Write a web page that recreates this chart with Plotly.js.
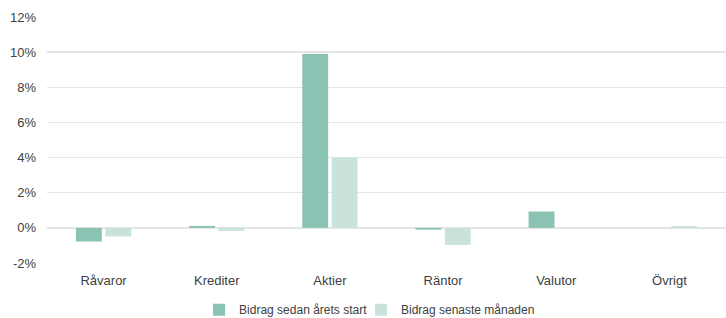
<!DOCTYPE html>
<html><head><meta charset="utf-8">
<script src="https://cdn.plot.ly/plotly-3.0.1.min.js"></script>
<style>html,body{margin:0;padding:0;background:#fff}#c{width:726px;height:318px}</style>
</head><body><div id="c"></div>
<script>
const categories = ["Råvaror","Krediter","Aktier","Räntor","Valutor","Övrigt"];
const ytdValues = [-0.78, 0.11, 9.9, -0.1, 0.93, 0.0];
const monthValues = [-0.49, -0.17, 4.0, -0.97, 0.0, 0.1];
const seriesNames = ["Bidrag sedan årets start","Bidrag senaste månaden"];
const tickVals = [-2,0,2,4,6,8,10,12];
const tickText = tickVals.map(v => v + "%");

const traces = [
  {type:"bar", x:categories, y:ytdValues, name:seriesNames[0], marker:{color:"#8ac2b4"}, legend:"legend"},
  {type:"bar", x:categories, y:monthValues, name:seriesNames[1], marker:{color:"#c9e3dc"}, legend:"legend2"}
];
const legendBase = {orientation:"h", xanchor:"left", y:-0.19, yanchor:"middle", font:{size:12, color:"#404040"}, bgcolor:"rgba(0,0,0,0)"};
const layout = {
  width:726, height:318,
  margin:{l:47, r:0, t:17, b:55, autoexpand:false},
  paper_bgcolor:"#fff", plot_bgcolor:"#fff",
  font:{family:"Liberation Sans, Arial, sans-serif", size:13, color:"#404040"},
  barmode:"group", bargap:0.48, bargroupgap:0.12,
  showlegend:true,
  legend:Object.assign({}, legendBase, {x:0.224}),
  legend2:Object.assign({}, legendBase, {x:0.4624}),
  xaxis:{showgrid:false, zeroline:false, showline:false, ticks:"", tickfont:{size:13}, ticklabelstandoff:8},
  yaxis:{range:[-2,12], tickvals:tickVals, ticktext:tickText, showgrid:true, gridcolor:"#e5e5e5", gridwidth:1.3,
         zeroline:true, zerolinecolor:"#e5e5e5", zerolinewidth:1.3, showline:false, ticks:"", tickfont:{size:13}, ticklabelstandoff:10}
};
Plotly.newPlot("c", traces, layout, {displayModeBar:false, staticPlot:true});
</script></body></html>
